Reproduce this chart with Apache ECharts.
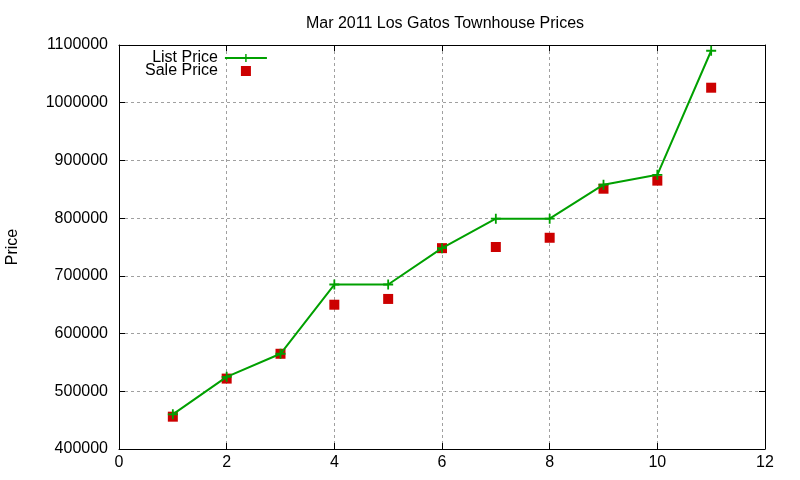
<!DOCTYPE html>
<html lang="en">
<head>
    <meta charset="UTF-8">
    <title>Mar 2011 Los Gatos Townhouse Prices</title>
    <script src="https://cdn.jsdelivr.net/npm/echarts@6/dist/echarts.min.js"></script>
    <style>
        html, body { margin: 0; padding: 0; background: #fff; }
    </style>
</head>
<body>
    <div id="chart" style="width: 800px;height: 480px"></div>

    <script>
        // data
        let homes = [1, 2, 3, 4, 5, 6, 7, 8, 9, 10, 11];
        let listPrice = [460000, 525000, 565000, 685000, 685000, 748000, 799000, 799000, 858000, 875000, 1090000];
        let salePrice = [456000, 522000, 565000, 650000, 660000, 748000, 750000, 766000, 851000, 865000, 1026000];

        let plusIcon = 'path://M4.1,0h1.8v10h-1.8zM0,4.1h10v1.8h-10z';
        let squareIcon = 'path://M0,0h10v10h-10z';
        let font = 'Liberation Sans, Arial, sans-serif';

        function pairs(xs, ys) {
            return xs.map((x, i) => [x, ys[i]]);
        }

        let chart = echarts.init(document.getElementById('chart'));

        let gridLine = { show: true, lineStyle: { color: '#a0a0a0', type: [3, 3], width: 1 } };
        let frame = { show: true, onZero: false, lineStyle: { color: '#000', width: 1 } };
        let tick = { show: true, inside: true, length: 6, lineStyle: { color: '#000' } };

        let option = {
            animation: false,
            title: {
                text: 'Mar 2011 Los Gatos Townhouse Prices',
                left: 440,
                top: 11,
                textAlign: 'center',
                textStyle: { fontFamily: font, fontSize: 16, fontWeight: 'normal', color: '#000' }
            },
            legend: {
                orient: 'vertical',
                align: 'right',
                left: 140,
                top: 45,
                itemWidth: 42,
                itemHeight: 10,
                itemGap: -3,
                symbolKeepAspect: true,
                textStyle: { fontFamily: font, fontSize: 16, color: '#000', padding: [0, 2, 0, 0] },
                data: [
                    { name: 'List Price' },
                    { name: 'Sale Price', icon: squareIcon }
                ]
            },
            grid: { left: 119, right: 35, top: 45, bottom: 31, containLabel: false, outerBoundsMode: 'none' },
            xAxis: [{
                type: 'value',
                min: 0,
                max: 12,
                interval: 2,
                axisLine: frame,
                axisTick: tick,
                splitLine: gridLine,
                axisLabel: { fontFamily: font, fontSize: 16, color: '#000', margin: 6 }
            }, {
                type: 'value',
                position: 'top',
                min: 0,
                max: 12,
                interval: 2,
                axisLine: frame,
                axisTick: tick,
                splitLine: { show: false },
                axisLabel: { show: false }
            }],
            yAxis: [{
                type: 'value',
                name: 'Price',
                nameLocation: 'middle',
                nameGap: 98,
                nameTextStyle: { fontFamily: font, fontSize: 16, color: '#000' },
                min: 400000,
                max: 1100000,
                interval: 100000,
                axisLine: frame,
                axisTick: tick,
                splitLine: gridLine,
                axisLabel: {
                    fontFamily: font, fontSize: 16, color: '#000', margin: 11,
                    formatter: v => String(v)
                }
            }, {
                type: 'value',
                position: 'right',
                min: 400000,
                max: 1100000,
                interval: 100000,
                axisLine: frame,
                axisTick: tick,
                splitLine: { show: false },
                axisLabel: { show: false }
            }],
            series: [{
                name: 'List Price',
                type: 'line',
                data: pairs(homes, listPrice),
                symbol: plusIcon,
                symbolSize: 10,
                showAllSymbol: true,
                itemStyle: { color: '#00a000' },
                lineStyle: { color: '#00a000', width: 2 }
            }, {
                name: 'Sale Price',
                type: 'scatter',
                data: pairs(homes, salePrice),
                symbol: 'rect',
                symbolSize: 10,
                itemStyle: { color: '#cc0000', opacity: 1 }
            }]
        };

        chart.setOption(option);
    </script>
</body>
</html>
